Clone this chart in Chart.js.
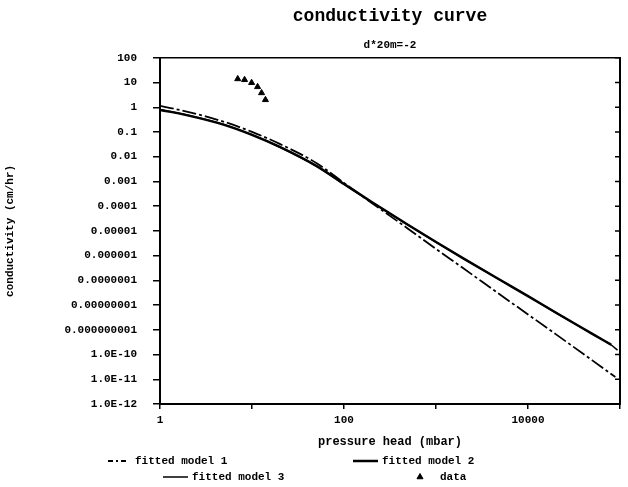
<!DOCTYPE html>
<html>
<head>
<meta charset="utf-8">
<script src="https://cdn.jsdelivr.net/npm/chart.js@4.4.1/dist/chart.umd.min.js"></script>
<style>
  html, body { margin: 0; padding: 0; background: #fff; }
  #wrap { width: 628px; height: 487px; }
</style>
</head>
<body>
<div id="wrap"><canvas id="c" width="628" height="487"></canvas></div>
<script>
// Unsaturated hydraulic conductivity vs. pressure head, three fitted models plus measured points
const titleText = 'conductivity curve';
const subtitleText = 'd*20m=-2';
const xAxisTitle = 'pressure head (mbar)';
const yAxisTitle = 'conductivity (cm/hr)';
const seriesNames = ['fitted model 1', 'fitted model 2', 'fitted model 3', 'data'];

const headsModel1 = [1, 2, 5, 10, 20, 50, 100, 200, 500, 1000, 2000, 5000, 10000, 20000, 50000, 89000];
const kModel1 = [1.14, 0.65, 0.256, 0.101, 0.033, 0.0056, 8.7e-4, 1.35e-4, 1.2e-5, 1.86e-6, 3.0e-7, 2.6e-8, 4.2e-9, 6.7e-10, 5.8e-11, 1.23e-11];

const headsModel2 = [1, 2, 5, 10, 20, 50, 100, 200, 500, 1000, 2000, 5000, 10000, 20000, 50000, 80000];
const kModel2 = [0.785, 0.47, 0.194, 0.0763, 0.0249, 0.00425, 7.9e-4, 1.48e-4, 1.73e-5, 3.55e-6, 7.6e-7, 1.03e-7, 2.3e-8, 5.0e-9, 6.9e-10, 2.5e-10];

const headsModel3 = [1, 2, 5, 10, 20, 50, 100, 200, 500, 1000, 2000, 5000, 10000, 20000, 50000, 80000, 94000];
const kModel3 = [0.82, 0.48, 0.198, 0.077, 0.0248, 0.0042, 7.8e-4, 1.47e-4, 1.71e-5, 3.5e-6, 7.5e-7, 1.02e-7, 2.3e-8, 4.9e-9, 6.8e-10, 2.45e-10, 1.5e-10];

const headsData = [7.0, 8.3, 9.9, 11.5, 12.7, 14.0];
const kData = [14, 12.9, 9.8, 6.7, 3.8, 2.0];

const xTickValues = [1, 10, 100, 1000, 10000, 100000];
const xTickLabels = ['1', '', '100', '', '10000', ''];
const yTickValues = [1e-12, 1e-11, 1e-10, 1e-9, 1e-8, 1e-7, 1e-6, 1e-5, 1e-4, 1e-3, 1e-2, 1e-1, 1, 10, 100];
const yTickLabels = ['1.0E-12', '1.0E-11', '1.0E-10', '0.000000001', '0.00000001', '0.0000001', '0.000001',
                     '0.00001', '0.0001', '0.001', '0.01', '0.1', '1', '10', '100'];

const toPoints = (xs, ys) => xs.map((x, i) => ({ x: x, y: ys[i] }));

const MONO = '"Liberation Mono", "DejaVu Sans Mono", monospace';
const INK = '#000';

// legend laid out in two rows under the x-axis title
const legendSlots = [
  { sx: 108, sw: 18, tx: 135, y: 461 },
  { sx: 353, sw: 25, tx: 382, y: 461 },
  { sx: 163, sw: 25, tx: 192, y: 477 },
  { sx: 416, sw: 8,  tx: 440, y: 477 }
];

const bottomLegend = {
  id: 'bottomLegend',
  afterDraw(chart) {
    const ctx = chart.ctx;
    chart.data.datasets.forEach((ds, i) => {
      const s = legendSlots[i];
      ctx.save();
      ctx.strokeStyle = INK;
      ctx.fillStyle = INK;
      if (ds.showLine === false) {
        Chart.helpers.drawPoint(ctx, { pointStyle: ds.pointStyle, radius: ds.pointRadius, borderWidth: 1, rotation: 0 },
          s.sx + s.sw / 2, s.y);
      } else {
        ctx.lineWidth = ds.borderWidth;
        ctx.setLineDash(ds.legendDash || ds.borderDash || []);
        ctx.beginPath();
        ctx.moveTo(s.sx, s.y);
        ctx.lineTo(s.sx + s.sw, s.y);
        ctx.stroke();
      }
      ctx.setLineDash([]);
      ctx.font = 'bold 11px ' + MONO;
      ctx.textBaseline = 'middle';
      ctx.textAlign = 'left';
      ctx.fillText(ds.label, s.tx, s.y);
      ctx.restore();
    });
  }
};

// short inward ticks along the right frame edge at each decade
const rightTicks = {
  id: 'rightTicks',
  afterDatasetsDraw(chart) {
    const ctx = chart.ctx;
    const y = chart.scales.y;
    const a = chart.chartArea;
    ctx.save();
    ctx.strokeStyle = INK;
    ctx.lineWidth = 1.5;
    ctx.beginPath();
    yTickValues.forEach(v => {
      const p = y.getPixelForValue(v);
      ctx.moveTo(a.right - 5, p);
      ctx.lineTo(a.right, p);
    });
    ctx.stroke();
    ctx.restore();
  }
};

new Chart(document.getElementById('c'), {
  type: 'line',
  data: {
    datasets: [
      {
        label: seriesNames[0],
        data: toPoints(headsModel1, kModel1),
        borderColor: INK, backgroundColor: INK,
        borderWidth: 1.8, borderDash: [14, 3, 3, 3], legendDash: [5, 3, 2, 3],
        pointRadius: 0, cubicInterpolationMode: 'monotone'
      },
      {
        label: seriesNames[1],
        data: toPoints(headsModel2, kModel2),
        borderColor: INK, backgroundColor: INK,
        borderWidth: 2.5,
        pointRadius: 0, cubicInterpolationMode: 'monotone'
      },
      {
        label: seriesNames[2],
        data: toPoints(headsModel3, kModel3),
        borderColor: INK, backgroundColor: INK,
        borderWidth: 1.5,
        pointRadius: 0, cubicInterpolationMode: 'monotone'
      },
      {
        label: seriesNames[3],
        data: toPoints(headsData, kData),
        borderColor: INK, backgroundColor: INK,
        showLine: false,
        pointStyle: 'triangle', pointRadius: 3.5, borderWidth: 1
      }
    ]
  },
  options: {
    responsive: false,
    animation: false,
    devicePixelRatio: 1,
    layout: { padding: { top: 0, left: 0, right: 0, bottom: 36 } },
    plugins: {
      legend: { display: false },
      tooltip: { enabled: false },
      title: {
        display: true, text: titleText, fullSize: false, color: INK,
        font: { family: MONO, size: 18, weight: 'bold' },
        padding: { top: 6, bottom: 6 }
      },
      subtitle: {
        display: true, text: subtitleText, fullSize: false, color: INK,
        font: { family: MONO, size: 11, weight: 'bold' },
        padding: { top: 5, bottom: 6 }
      }
    },
    scales: {
      x: {
        type: 'logarithmic', position: 'bottom', min: 1, max: 100000,
        afterBuildTicks: s => { s.ticks = xTickValues.map(v => ({ value: v })); },
        afterFit: s => { s.height = 47; },
        ticks: {
          autoSkip: false, maxRotation: 0, color: INK, padding: 5,
          font: { family: MONO, size: 11, weight: 'bold' },
          callback: (v, i) => xTickLabels[i]
        },
        grid: { drawOnChartArea: false, drawTicks: true, tickLength: 5, color: INK, lineWidth: 1.5 },
        border: { display: true, color: INK, width: 2 },
        title: {
          display: true, text: xAxisTitle, color: INK,
          font: { family: MONO, size: 12, weight: 'bold' },
          padding: { top: 2, bottom: 2 }
        }
      },
      xTop: {
        type: 'logarithmic', position: 'top', min: 1, max: 100000,
        afterFit: s => { s.height = 0; },
        ticks: { display: false },
        grid: { display: false, drawTicks: false },
        border: { display: true, color: INK, width: 1.5 }
      },
      y: {
        type: 'logarithmic', position: 'left', min: 1e-12, max: 100,
        afterBuildTicks: s => { s.ticks = yTickValues.map(v => ({ value: v })); },
        afterFit: s => { s.width = 160; },
        ticks: {
          autoSkip: false, color: INK, padding: 16,
          font: { family: MONO, size: 11, weight: 'bold' },
          callback: (v, i) => yTickLabels[i]
        },
        grid: { drawOnChartArea: false, drawTicks: true, tickLength: 7, color: INK, lineWidth: 1.5 },
        border: { display: true, color: INK, width: 2 },
        title: {
          display: true, text: yAxisTitle, color: INK,
          font: { family: MONO, size: 11, weight: 'bold' },
          padding: { top: 4, bottom: 0 }
        }
      },
      yRight: {
        type: 'logarithmic', position: 'right', min: 1e-12, max: 100,
        afterFit: s => { s.width = 8; },
        ticks: { display: false },
        grid: { display: false, drawTicks: false },
        border: { display: true, color: INK, width: 2 }
      }
    }
  },
  plugins: [rightTicks, bottomLegend]
});
</script>
</body>
</html>
